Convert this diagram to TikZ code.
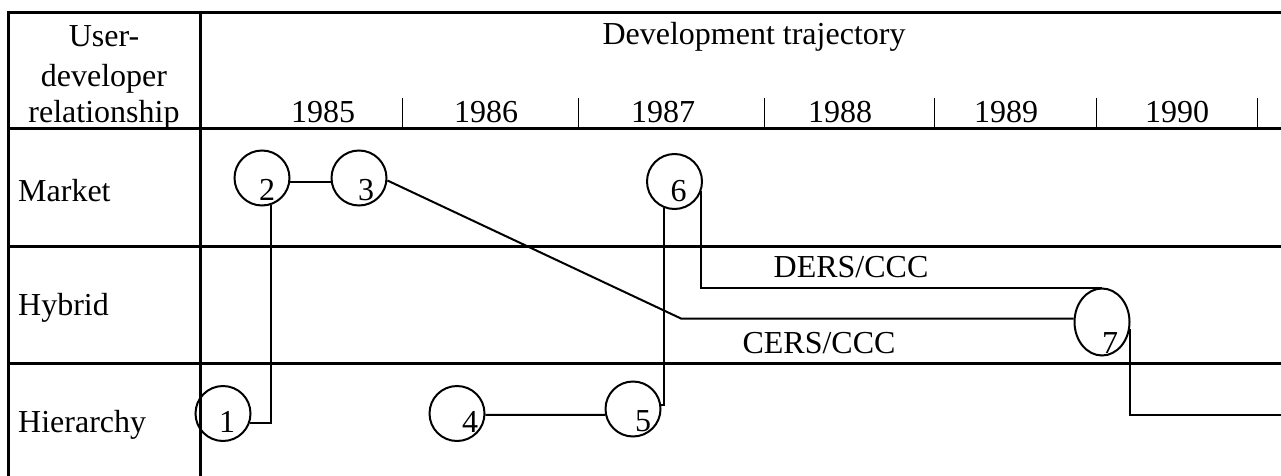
\documentclass[tikz,border=0pt]{standalone}
\usepackage{fontspec}
\setmainfont{Liberation Serif}
\usetikzlibrary{shapes.geometric,calc}
\begin{document}
\begin{tikzpicture}[x=1pt,y=-1pt,
  frame/.style={line width=3pt},
  tickline/.style={line width=1pt},
  conn/.style={line width=2pt},
  stage/.style={ellipse,draw,line width=2pt,inner sep=0pt,minimum width=55pt,minimum height=55pt},
  num/.style={font=\fontsize{32}{36}\selectfont,inner sep=0pt},
  txt/.style={font=\fontsize{32}{36}\selectfont,inner sep=0pt,anchor=base},
  rowlabel/.style={txt,anchor=base west}]
\useasboundingbox (0,0) rectangle (1281,476);
% table frame
\draw[frame] (8,476) -- (8,13) -- (1281,13);
\draw[frame] (8,128) -- (1281,128);
\draw[frame] (8,246) -- (1281,246);
\draw[frame] (8,363) -- (1281,363);
\draw[frame] (200,13) -- (200,476);
% header
\node[txt] (h1) at (104,47) {User-};
\node[txt] (h2) at (104,87) {developer};
\node[txt] (h3) at (104,122) {relationship};
\node[txt] (ht) at (754,45) {Development trajectory};
\foreach \x/\yr in {323/1985,486/1986,663/1987,840/1988,1006/1989,1177/1990}
  \node[txt] (y\yr) at (\x,122) {\yr};
\foreach \x in {402,578,764,934,1096,1257}
  \draw[tickline] (\x,98) -- (\x,127);
% row labels
\node[rowlabel] (rm) at (18,201) {Market};
\node[rowlabel] (rh) at (18,315) {Hybrid};
\node[rowlabel] (ri) at (18,432) {Hierarchy};
% stages
\node[stage] (c1) at (223,413.5) {};
\node[stage] (c2) at (262,178) {};
\node[stage] (c3) at (359,178) {};
\node[stage] (c4) at (457,413.5) {};
\node[stage] (c5) at (633,409) {};
\node[stage] (c6) at (674.5,181.5) {};
\node[stage,minimum height=67pt] (c7) at (1102,322) {};
\node[num] (n1) at ($(c1)+(4,8)$) {1};
\node[num] (n2) at ($(c2)+(5,12)$) {2};
\node[num] (n3) at ($(c3)+(7,12)$) {3};
\node[num] (n4) at ($(c4)+(13,8)$) {4};
\node[num] (n5) at ($(c5)+(10,12)$) {5};
\node[num] (n6) at ($(c6)+(4,10)$) {6};
\node[num] (n7) at ($(c7)+(8,21)$) {7};
% connectors
\draw[conn] (c1.-20) -| (c2.-72);
\draw[conn] (c2.-8) -- (c3.188);
\coordinate (bend) at (681,0 |- c7.173);
\draw[conn] (c3.-5) -- (bend) -- (c7.173);
\draw[conn] (c4.-3) -- (c5.192);
\draw[conn] (c5.8) -| (c6.-112);
\draw[conn] (c6.-20) |- (c7.north);
\coordinate (out) at (1281,415);
\draw[conn] (c7.-15) |- (out);
% trajectory labels
\node[txt] (ders) at (851,277) {DERS/CCC};
\node[txt] (cers) at (819,353) {CERS/CCC};
\end{tikzpicture}
\end{document}
